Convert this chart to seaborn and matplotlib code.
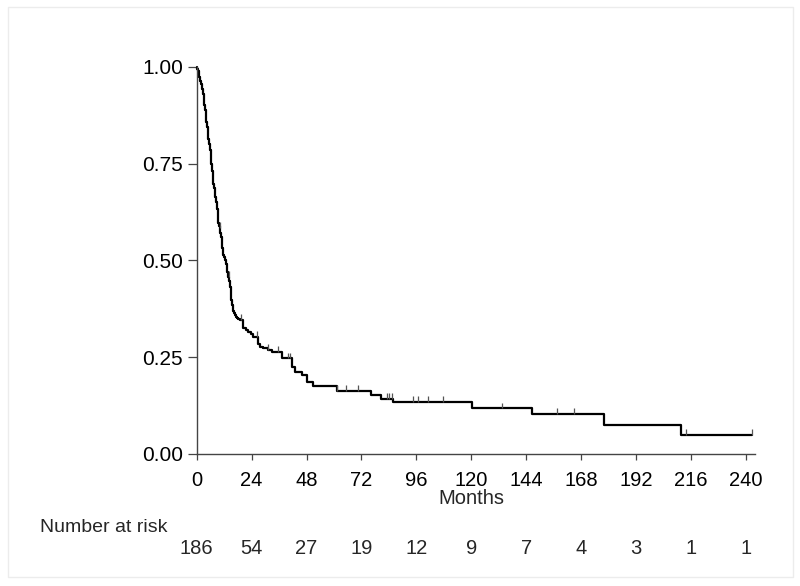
import matplotlib.pyplot as plt
import matplotlib.transforms as mtransforms
import numpy as np
import pandas as pd
import seaborn as sns

# --- Kaplan-Meier steps ---
step_months = [0, 0.3, 0.6, 0.9, 1.2, 1.5, 1.8, 2.1, 2.4, 2.7, 3.0, 3.3, 3.6,
               3.9, 4.2, 4.5, 4.8, 5.1, 5.4, 5.8, 6.1, 6.4, 6.7, 7.0, 7.3,
               7.6, 7.9, 8.2, 8.5, 8.8, 9.1, 9.4, 9.7, 10.0, 10.3, 10.6,
               10.9, 11.2, 11.6, 11.9, 12.3, 12.7, 13.1, 13.4, 13.8, 14.1,
               14.5, 14.8, 15.1, 15.4, 15.7, 16.0, 16.4, 16.7, 17.1, 17.5,
               18.2, 18.9, 20.4, 21.5, 22.5, 23.5, 24.7, 26.9, 27.5, 29.1,
               31.3, 33.0, 37.1, 41.5, 42.9, 45.9, 48.1, 50.9, 61.4, 76.1,
               80.5, 85.6, 120.4, 146.6, 177.9, 211.7, 242.5]
step_surv = [1.0, 0.995, 0.989, 0.982, 0.973, 0.964, 0.957, 0.950, 0.942,
             0.929, 0.915, 0.902, 0.889, 0.874, 0.859, 0.844, 0.829, 0.815,
             0.802, 0.785, 0.767, 0.750, 0.730, 0.710, 0.698, 0.686, 0.675,
             0.663, 0.650, 0.632, 0.614, 0.596, 0.590, 0.585, 0.572, 0.560,
             0.548, 0.533, 0.515, 0.508, 0.500, 0.490, 0.480, 0.469, 0.458,
             0.446, 0.432, 0.415, 0.398, 0.385, 0.377, 0.370, 0.363, 0.359,
             0.355, 0.352, 0.349, 0.346, 0.325, 0.320, 0.316, 0.310, 0.303,
             0.285, 0.277, 0.273, 0.269, 0.264, 0.247, 0.226, 0.213, 0.204,
             0.187, 0.176, 0.163, 0.152, 0.142, 0.135, 0.118, 0.103, 0.075,
             0.049, 0.049]

censor_months = [10.0, 14.0, 19.4, 26.5, 31.3, 35.7, 39.8, 40.8, 61.4, 65.1,
                 70.6, 83.3, 84.1, 85.5, 94.4, 96.5, 100.9, 107.5, 133.5,
                 157.5, 164.7, 213.7, 242.5]

tick_months = [0, 24, 48, 72, 96, 120, 144, 168, 192, 216, 240]
at_risk = [186, 54, 27, 19, 12, 9, 7, 4, 3, 1, 1]
y_ticks = [0.0, 0.25, 0.5, 0.75, 1.0]

km = pd.DataFrame({"Months": step_months, "Survival": step_surv})

# survival value at each censoring time (step function lookup)
idx = np.searchsorted(step_months, censor_months, side="right") - 1
censor_surv = np.array(step_surv)[idx]

sns.set_theme(style="white")
plt.rcParams["font.family"] = ["Liberation Sans", "DejaVu Sans"]

fig = plt.figure(figsize=(8, 5.86), dpi=100)
ax = fig.add_axes([0.2459, 0.2253, 0.698, 0.6604])

sns.lineplot(data=km, x="Months", y="Survival", drawstyle="steps-post",
             estimator=None, color="black", linewidth=1.6, ax=ax, clip_on=False)
ax.vlines(censor_months, censor_surv, censor_surv + 0.015, color="#555555",
          linewidth=0.9, clip_on=False)

ax.set_xlim(0, 244)
ax.set_ylim(0, 1)
ax.set_xticks(tick_months)
ax.set_yticks(y_ticks)
ax.set_yticklabels([f"{v:.2f}" for v in y_ticks])
ax.set_xlabel("")
ax.set_ylabel("")

for side in ["top", "right"]:
    ax.spines[side].set_visible(False)
for side in ["left", "bottom"]:
    ax.spines[side].set_color("#444444")
    ax.spines[side].set_linewidth(1.0)

ax.tick_params(axis="y", left=True, length=6.5, width=0.9, color="#444444",
               labelsize=15, pad=3.5, labelcolor="black")
ax.tick_params(axis="x", bottom=True, length=4, width=0.9, color="#444444",
               labelsize=14.5, pad=8, labelcolor="black")

# axis title and risk table
fig.text(0.589, 1 - 504 / 586, "Months", ha="center", va="baseline",
         fontsize=14.5)
fig.text(40 / 800, 1 - 531.5 / 586, "Number at risk", ha="left",
         va="baseline", fontsize=14)
trans = mtransforms.blended_transform_factory(ax.transData, fig.transFigure)
for m, n in zip(tick_months, at_risk):
    ax.text(m, 1 - 554.5 / 586, str(n), transform=trans, ha="center",
            va="baseline", fontsize=14.5)

# light frame around the graph region
fig.patches.append(plt.Rectangle((8 / 800, 9 / 586), 785 / 800, 570 / 586,
                                 transform=fig.transFigure, fill=False,
                                 edgecolor="#ececec", linewidth=1.0))

fig.savefig("out.png", dpi=100)
